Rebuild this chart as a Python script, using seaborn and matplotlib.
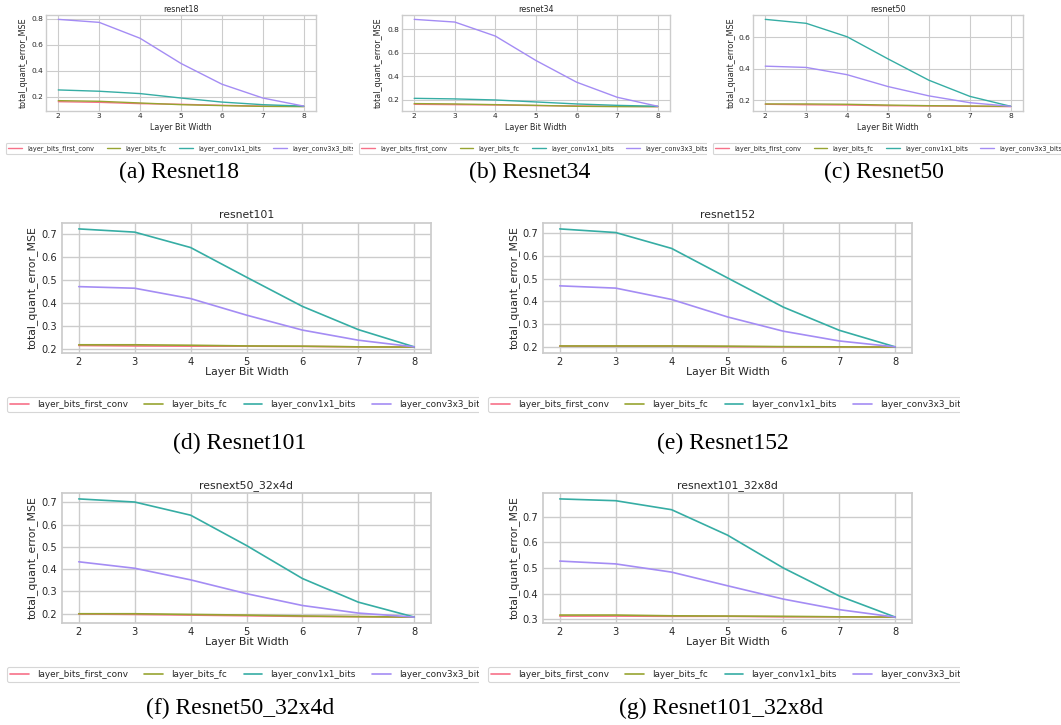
import matplotlib
matplotlib.use("Agg")
import matplotlib.pyplot as plt
from matplotlib.transforms import Bbox, TransformedBbox
import seaborn as sns
import pandas as pd

# ---------------- data ----------------
bits = [2, 3, 4, 5, 6, 7, 8]
layer_names = ["layer_bits_first_conv", "layer_bits_fc", "layer_conv1x1_bits", "layer_conv3x3_bits"]

r18_first_conv = [0.164, 0.159, 0.149, 0.144, 0.136, 0.130, 0.128]
r18_fc         = [0.172, 0.167, 0.154, 0.141, 0.134, 0.128, 0.126]
r18_conv1x1    = [0.254, 0.244, 0.226, 0.192, 0.161, 0.141, 0.130]
r18_conv3x3    = [0.795, 0.772, 0.650, 0.457, 0.298, 0.192, 0.130]

r34_first_conv = [0.160, 0.157, 0.154, 0.149, 0.146, 0.143, 0.140]
r34_fc         = [0.166, 0.163, 0.157, 0.151, 0.143, 0.140, 0.140]
r34_conv1x1    = [0.211, 0.206, 0.197, 0.180, 0.163, 0.151, 0.143]
r34_conv3x3    = [0.886, 0.863, 0.743, 0.534, 0.349, 0.220, 0.143]

r50_first_conv = [0.175, 0.172, 0.170, 0.166, 0.164, 0.162, 0.160]
r50_fc         = [0.177, 0.177, 0.175, 0.170, 0.166, 0.164, 0.162]
r50_conv1x1    = [0.712, 0.687, 0.602, 0.462, 0.327, 0.225, 0.162]
r50_conv3x3    = [0.416, 0.408, 0.362, 0.287, 0.228, 0.185, 0.162]

r101_first_conv = [0.216, 0.214, 0.213, 0.213, 0.212, 0.210, 0.209]
r101_fc         = [0.219, 0.219, 0.217, 0.214, 0.213, 0.210, 0.209]
r101_conv1x1    = [0.723, 0.709, 0.642, 0.513, 0.386, 0.285, 0.210]
r101_conv3x3    = [0.472, 0.465, 0.420, 0.348, 0.283, 0.239, 0.210]

r152_first_conv = [0.203, 0.203, 0.203, 0.201, 0.200, 0.200, 0.199]
r152_fc         = [0.204, 0.204, 0.204, 0.203, 0.201, 0.200, 0.199]
r152_conv1x1    = [0.720, 0.704, 0.634, 0.504, 0.375, 0.273, 0.200]
r152_conv3x3    = [0.469, 0.459, 0.409, 0.332, 0.269, 0.226, 0.200]

rx50_first_conv = [0.199, 0.197, 0.194, 0.191, 0.188, 0.187, 0.185]
rx50_fc         = [0.200, 0.200, 0.197, 0.194, 0.190, 0.187, 0.185]
rx50_conv1x1    = [0.715, 0.701, 0.642, 0.506, 0.358, 0.252, 0.185]
rx50_conv3x3    = [0.433, 0.404, 0.352, 0.290, 0.237, 0.203, 0.185]

rx101_first_conv = [0.313, 0.313, 0.312, 0.312, 0.310, 0.310, 0.309]
rx101_fc         = [0.317, 0.317, 0.314, 0.313, 0.312, 0.310, 0.309]
rx101_conv1x1    = [0.769, 0.762, 0.727, 0.628, 0.500, 0.391, 0.309]
rx101_conv3x3    = [0.527, 0.516, 0.484, 0.431, 0.379, 0.338, 0.309]

titles = ["resnet18", "resnet34", "resnet50", "resnet101", "resnet152",
          "resnext50_32x4d", "resnext101_32x8d"]
captions = ["(a) Resnet18", "(b) Resnet34", "(c) Resnet50", "(d) Resnet101",
            "(e) Resnet152", "(f) Resnet50_32x4d", "(g) Resnet101_32x8d"]
series = [
    [r18_first_conv, r18_fc, r18_conv1x1, r18_conv3x3],
    [r34_first_conv, r34_fc, r34_conv1x1, r34_conv3x3],
    [r50_first_conv, r50_fc, r50_conv1x1, r50_conv3x3],
    [r101_first_conv, r101_fc, r101_conv1x1, r101_conv3x3],
    [r152_first_conv, r152_fc, r152_conv1x1, r152_conv3x3],
    [rx50_first_conv, rx50_fc, rx50_conv1x1, rx50_conv3x3],
    [rx101_first_conv, rx101_fc, rx101_conv1x1, rx101_conv3x3],
]

# ---------------- layout (pixels) ----------------
W, H = 1061, 725
# axes: left, right, top, bottom
axes_px = [(46, 316, 15, 111), (402, 670, 15, 111), (753, 1023, 15, 111),
           (62, 431, 223, 353), (543, 912, 223, 353),
           (62, 431, 493, 623), (543, 912, 493, 623)]
# y-label right edge (px)
ylab_px = [27.5, 383, 736, 38, 520, 38, 520]
# legend anchor (x, y) and clip (x0, x1)
leg_px = [(6, 143, 0, 353), (359, 143, 355, 707), (713, 143, 705, 1061),
          (7, 397, 0, 479), (488, 397, 484, 960),
          (7, 667, 0, 479), (488, 667, 484, 960)]
cap_px = [(179, 172), (530, 172), (884, 172), (240, 443), (723, 443),
          (240, 708), (721, 708)]

sns.set_theme(style="whitegrid")
plt.rcParams["font.family"] = ["DejaVu Sans"]
pal = sns.color_palette("husl", 4)

fig = plt.figure(figsize=(W / 100, H / 100), dpi=100)

for i in range(7):
    l, r, t, b = axes_px[i]
    small = i < 3
    tfs = 5.4 if small else 7.1     # tick labels
    lbfs = 5.8 if small else 7.8    # axis labels / title
    lfs = 4.7 if small else 6.37    # legend
    htp = 0.8 if small else 0.9
    lw = 1.0 if small else 1.2
    ax = fig.add_axes([l / W, 1 - b / H, (r - l) / W, (b - t) / H])
    df = pd.DataFrame({
        "bits": bits * 4,
        "value": sum(series[i], []),
        "layer": [n for n in layer_names for _ in bits],
    })
    sns.lineplot(data=df, x="bits", y="value", hue="layer", hue_order=layer_names,
                 palette=pal, ax=ax, legend=False, linewidth=lw)
    ax.set_title(titles[i], fontsize=lbfs, pad=1.8 if small else 3.5, color="0.15")
    ax.set_xlabel("Layer Bit Width", fontsize=lbfs)
    ax.set_ylabel("total_quant_error_MSE", fontsize=lbfs)
    ax.tick_params(axis="both", length=0)
    ax.tick_params(axis="x", labelsize=tfs, pad=1.8 if small else 3.0)
    ax.tick_params(axis="y", labelsize=tfs, pad=2.2 if small else 3.6)
    axh = b - t
    axw = r - l
    xl_top = 122.5 - 111 if small else 367 - 353
    ax.xaxis.set_label_coords(0.5, -xl_top / axh)
    ax.yaxis.set_label_coords((ylab_px[i] - l) / axw, 0.5)
    for s in ax.spines.values():
        s.set_linewidth(1.0 if small else 1.25)
    ax.grid(linewidth=0.8 if small else 1.0)

    handles = ax.get_lines()[:4]
    lx, ly, cx0, cx1 = leg_px[i]
    leg = ax.legend(handles, layer_names, loc="upper left",
                    bbox_to_anchor=(lx / W, 1 - ly / H), bbox_transform=fig.transFigure,
                    borderaxespad=0, ncol=4, fontsize=lfs, frameon=True,
                    handlelength=2.1, handletextpad=htp, columnspacing=1.9,
                    borderpad=0.35)
    leg.get_frame().set_linewidth(0.8)
    clip = TransformedBbox(Bbox.from_extents(cx0 / W, 0, cx1 / W, 1), fig.transFigure)
    for art in leg.findobj():
        art.set_clip_box(clip)
        art.set_clip_on(True)

    cx, cy = cap_px[i]
    fig.text(cx / W, 1 - cy / H, captions[i], ha="center", va="center",
             family="Liberation Serif", fontsize=17, color="black")

fig.savefig("out.png", dpi=100)
